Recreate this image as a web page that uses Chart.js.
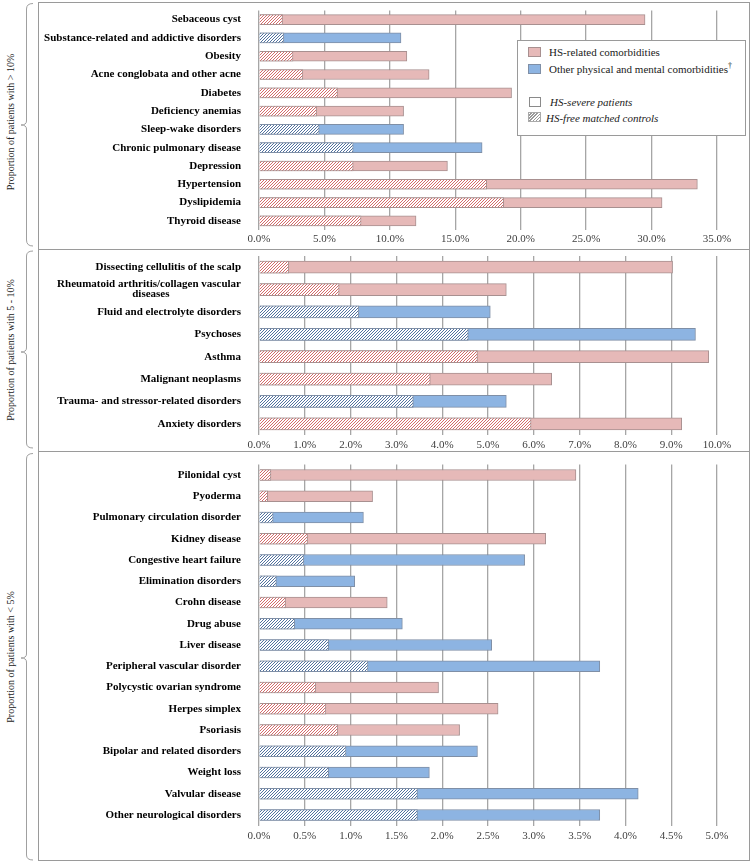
<!DOCTYPE html>
<html><head><meta charset="utf-8">
<script src="https://cdn.jsdelivr.net/npm/chart.js@4.4.1/dist/chart.umd.min.js"></script>
<style>
html,body{margin:0;padding:0;background:#fff;}
#wrap{position:relative;width:751px;height:863px;overflow:hidden;font-family:"Liberation Serif","Times New Roman",serif;}
canvas{position:absolute;left:0;}
.box{position:absolute;border:1px solid #9a9a9a;box-sizing:border-box;}
.ytitle{position:absolute;font-size:10px;color:#222;white-space:nowrap;transform:translate(-50%,-50%) rotate(-90deg);}
#legend{position:absolute;left:517px;top:40px;width:229px;height:96px;border:1px solid #9a9a9a;background:#fff;box-sizing:border-box;z-index:5;}
.sw{position:absolute;width:13px;height:10px;box-sizing:border-box;}
.lt{position:absolute;font-size:11px;color:#1a1a1a;white-space:nowrap;line-height:12px;}
</style></head>
<body>
<div id="wrap">
  <div class="box" style="left:38px;top:2px;width:712px;height:248px;"></div>
  <div class="box" style="left:38px;top:249px;width:712px;height:203px;"></div>
  <div class="box" style="left:38px;top:451px;width:712px;height:410px;"></div>
  <svg width="40" height="863" style="position:absolute;left:0;top:0;" fill="none" stroke="#a0a0a0" stroke-width="1">
    <path d="M33,3.5 Q26.5,3.5 26.5,9 L26.5,121 Q26.5,125 21,125 Q26.5,125 26.5,129 L26.5,240 Q26.5,246 33,246"/>
    <path d="M33,251 Q26.5,251 26.5,256 L26.5,348 Q26.5,352 21,352 Q26.5,352 26.5,356 L26.5,443 Q26.5,448 33,448"/>
    <path d="M33,453.5 Q26.5,453.5 26.5,459 L26.5,654 Q26.5,658 21,658 Q26.5,658 26.5,662 L26.5,855 Q26.5,860 33,860"/>
  </svg>
  <div class="ytitle" style="left:10px;top:122px;">Proportion of patients with &gt; 10%</div>
  <div class="ytitle" style="left:10px;top:350px;">Proportion of patients with 5 - 10%</div>
  <div class="ytitle" style="left:10px;top:657px;">Proportion of patients with &lt; 5%</div>
  <canvas id="c1" width="751" height="249" style="top:0px;"></canvas>
  <canvas id="c2" width="751" height="202" style="top:249px;"></canvas>
  <canvas id="c3" width="751" height="411" style="top:451px;"></canvas>
  <div id="legend">
    <div class="sw" style="left:10px;top:6px;background:#E6B9B8;border:1px solid #a89090;"></div>
    <div class="lt" style="left:31px;top:5px;">HS-related comorbidities</div>
    <div class="sw" style="left:10px;top:23px;background:#8DB4E2;border:1px solid #7f8fa6;"></div>
    <div class="lt" style="left:31px;top:22px;">Other physical and mental comorbidities<sup style="font-size:8px;line-height:0;">†</sup></div>
    <div class="sw" style="left:11px;top:56px;width:12px;background:#fff;border:1px solid #8a8a8a;"></div>
    <div class="lt" style="left:32px;top:55px;font-style:italic;">HS-severe patients</div>
    <div class="sw" style="left:10px;top:71px;background:repeating-linear-gradient(135deg,#fff 0 1.2px,#9a9a9a 1.2px 2.2px);border:1px solid #aaa;"></div>
    <div class="lt" style="left:28px;top:71px;font-style:italic;">HS-free matched controls</div>
  </div>
</div>
<script>
// ---------- DATA ----------
const p1Labels = ['Sebaceous cyst','Substance-related and addictive disorders','Obesity','Acne conglobata and other acne','Diabetes','Deficiency anemias','Sleep-wake disorders','Chronic pulmonary disease','Depression','Hypertension','Dyslipidemia','Thyroid disease'];
const p1Types = ['HS','Other','HS','HS','HS','HS','Other','Other','HS','HS','HS','HS'];
const p1Patients = [29.5,10.85,11.3,13.0,19.3,11.05,11.05,17.05,14.4,33.5,30.8,12.0];
const p1Controls = [1.8,1.9,2.6,3.35,6.0,4.4,4.6,7.2,7.2,17.4,18.7,7.8];

const p2Labels = ['Dissecting cellulitis of the scalp',['Rheumatoid arthritis/collagen vascular','diseases\u2002\u2002\u2002\u2002\u2002\u2002\u2002\u2002\u2002\u2002\u2002\u2002\u2002'],'Fluid and electrolyte disorders','Psychoses','Asthma','Malignant neoplasms','Trauma- and stressor-related disorders','Anxiety disorders'];
const p2Types = ['HS','HS','Other','Other','HS','HS','Other','HS'];
const p2Patients = [9.03,5.40,5.05,9.53,9.82,6.39,5.40,9.23];
const p2Controls = [0.65,1.75,2.18,4.57,4.77,3.74,3.37,5.94];

const p3Labels = ['Pilonidal cyst','Pyoderma','Pulmonary circulation disorder','Kidney disease','Congestive heart failure','Elimination disorders','Crohn disease','Drug abuse','Liver disease','Peripheral vascular disorder','Polycystic ovarian syndrome','Herpes simplex','Psoriasis','Bipolar and related disorders','Weight loss','Valvular disease','Other neurological disorders'];
const p3Types = ['HS','HS','Other','HS','Other','Other','HS','Other','Other','Other','HS','HS','HS','Other','Other','Other','Other'];
const p3Patients = [3.46,1.24,1.14,3.13,2.90,1.045,1.40,1.565,2.54,3.72,1.96,2.61,2.19,2.385,1.86,4.14,3.72];
const p3Controls = [0.13,0.095,0.155,0.53,0.49,0.19,0.29,0.39,0.76,1.19,0.62,0.73,0.86,0.95,0.76,1.73,1.73];

const p1Max = 35, p1Step = 5;
const p2Max = 10, p2Step = 1;
const p3Max = 5, p3Step = 0.5;

// ---------- STYLE ----------
const PINK = '#E6B9B8', PINKB = '#A89090', BLUE = '#8DB4E2', BLUEB = '#7F8FA6';
function hatch(color){
  const n = 3;
  const c = document.createElement('canvas'); c.width = n; c.height = n;
  const g = c.getContext('2d');
  g.fillStyle = '#fff'; g.fillRect(0,0,n,n);
  g.fillStyle = color;
  for (let i = 0; i < n; i++) g.fillRect(n-1-i, i, 1, 1);
  return g.createPattern(c,'repeat');
}
const HP = hatch('#D46A6A'), HB = hatch('#52729F');

function makeChart(id, labels, types, patients, controls, max, step, g){
  new Chart(document.getElementById(id), {
    type: 'bar',
    data: {
      labels: labels,
      datasets: [
        {label:'HS-severe patients', data: patients,
         backgroundColor: types.map(t => t === 'HS' ? PINK : BLUE),
         borderColor: types.map(t => t === 'HS' ? PINKB : BLUEB),
         borderWidth: 1, barThickness: g.bar, grouped: false, order: 2},
        {label:'HS-free matched controls', data: controls,
         backgroundColor: types.map(t => t === 'HS' ? HP : HB),
         borderColor: types.map(t => t === 'HS' ? PINKB : BLUEB),
         borderWidth: 1, barThickness: g.bar, grouped: false, order: 1}
      ]
    },
    options: {
      indexAxis: 'y', responsive: false, animation: false, events: [],
      layout: {padding: {top: g.top, right: 34, left: 0, bottom: 0}},
      plugins: {legend: {display: false}, tooltip: {enabled: false}},
      scales: {
        x: {min: 0, max: max,
            ticks: {stepSize: step, padding: g.tp, color: '#404040', autoSkip: false, maxRotation: 0,
                    font: {family: 'Liberation Serif', size: 11},
                    callback: v => Number(v).toFixed(1) + '%'},
            grid: {color: '#A6A6A6', lineWidth: 1.3, drawTicks: false},
            border: {display: false},
            afterFit: s => { s.height = g.xh; s.paddingLeft = 0; s.paddingRight = 0; }},
        y: {ticks: {padding: 10, color: '#000', autoSkip: false,
                    font: {family: 'Liberation Serif', size: 11, weight: 'bold', lineHeight: g.lh}},
            grid: {display: false}, border: {display: false},
            afterFit: s => { s.width = 259; s.paddingTop = 0; s.paddingBottom = 0; }}
      }
    }
  });
}
makeChart('c1', p1Labels, p1Types, p1Patients, p1Controls, p1Max, p1Step, {top: 10.5, xh: 19, tp: 3, bar: 10, lh: 1.2});
makeChart('c2', p2Labels, p2Types, p2Patients, p2Controls, p2Max, p2Step, {top: 7, xh: 16, tp: 4, bar: 12, lh: '10px'});
makeChart('c3', p3Labels, p3Types, p3Patients, p3Controls, p3Max, p3Step, {top: 13.4, xh: 36.4, tp: 4, bar: 11, lh: 1.2});
</script>
</body></html>
